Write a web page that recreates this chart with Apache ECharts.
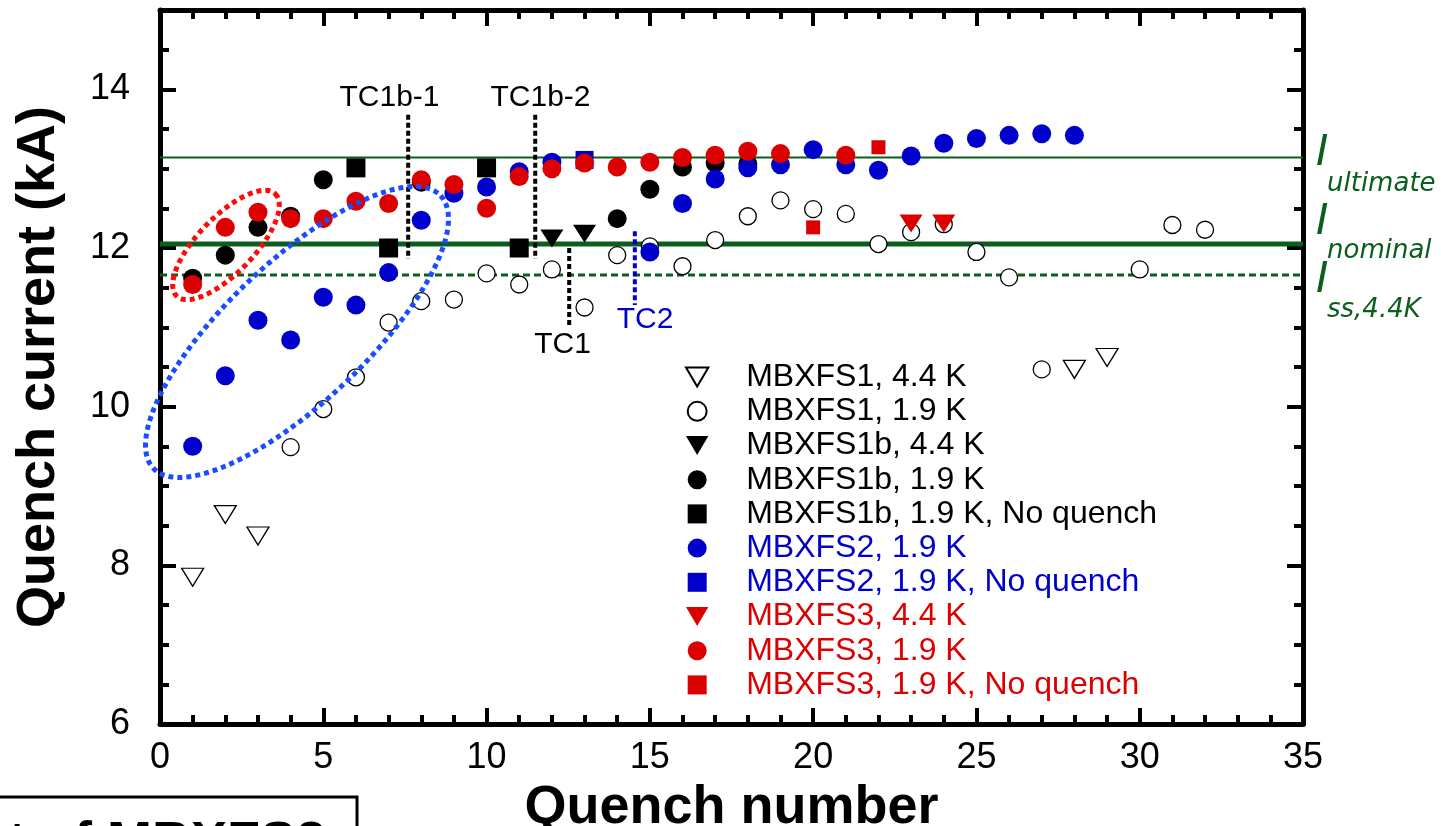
<!DOCTYPE html>
<html><head><meta charset="utf-8">
<script src="https://cdn.jsdelivr.net/npm/echarts@6/dist/echarts.min.js"></script>
<style>html,body{margin:0;padding:0;background:#fff;}#c{width:1441px;height:826px;}</style>
</head><body><div id="c"></div>
<script>
// ---- data (quench number, quench current kA) ----
const mbxfs1_44 = [[1,7.85],[2,8.64],[3,8.37],[28,10.47],[29,10.62]];
const mbxfs1_19 = [[4,9.49],[5,9.97],[6,10.37],[7,11.06],[8,11.33],[9,11.35],[10,11.68],[11,11.54],[12,11.73],[13,11.25],[14,11.91],[15,12.02],[16,11.77],[17,12.10],[18,12.40],[19,12.60],[20,12.49],[21,12.43],[22,12.05],[23,12.20],[24,12.30],[25,11.95],[26,11.63],[27,10.47],[30,11.73],[31,12.29],[32,12.23]];
const mbxfs1b_44 = [[12,12.12],[13,12.18]];
const mbxfs1b_19 = [[1,11.62],[2,11.91],[3,12.26],[4,12.40],[5,12.86],[8,12.83],[14,12.37],[15,12.74],[16,13.02],[17,13.07],[18,13.06]];
const mbxfs1b_nq = [[6,13.01],[7,12.00],[10,13.01],[11,12.00]];
const mbxfs2_19 = [[1,9.50],[2,10.39],[3,11.09],[4,10.84],[5,11.38],[6,11.28],[7,11.69],[8,12.35],[9,12.69],[10,12.77],[11,12.96],[12,13.08],[15,11.95],[16,12.56],[17,12.87],[18,13.01],[19,13.05],[20,13.24],[21,13.05],[22,12.98],[23,13.16],[24,13.32],[25,13.38],[26,13.42],[27,13.44],[28,13.42]];
const mbxfs2_nq = [[13,13.11]];
const mbxfs3_44 = [[23,12.31],[24,12.31]];
const mbxfs3_19 = [[1,11.54],[2,12.26],[3,12.45],[4,12.37],[5,12.37],[6,12.59],[7,12.56],[8,12.86],[9,12.80],[10,12.50],[11,12.90],[12,13.00],[13,13.07],[14,13.02],[15,13.08],[16,13.14],[17,13.17],[18,13.22],[19,13.19],[21,13.17]];
const mbxfs3_nq = [[20,12.26],[22,13.27]];

const seriesNames = ['MBXFS1, 4.4 K','MBXFS1, 1.9 K','MBXFS1b, 4.4 K','MBXFS1b, 1.9 K','MBXFS1b, 1.9 K, No quench','MBXFS2, 1.9 K','MBXFS2, 1.9 K, No quench','MBXFS3, 4.4 K','MBXFS3, 1.9 K','MBXFS3, 1.9 K, No quench'];

// reference currents (kA)
const I_ultimate = 13.14, I_nominal = 12.05, I_ss44 = 11.66;
// test-campaign markers: [x, yTop, yBottom]
const tc1b1 = [7.6, 13.68, 11.86];
const tc1b2 = [11.49, 13.68, 11.86];
const tc1 = [12.53, 12.0, 11.01];
const tc2 = [14.54, 12.21, 11.28];
const xTickLabels = [0,5,10,15,20,25,30,35];
const yTickLabels = [6,8,10,12,14];

const BLACK='#000', BLUE='#0000cc', RED='#dd0000', GREEN='#0b5e1e';
const FONT='Liberation Sans';
const DTRI='path://M0,0L20,0L10,17Z';
const SQR='path://M0,0L10,0L10,10L0,10Z';

const chart = echarts.init(document.getElementById('c'), null, {renderer:'canvas'});

function mk(name, data, symbol, size, color, open){
  return {name, type:'scatter', data, symbol, symbolSize:size, z:5,
    itemStyle: open ? {color:'#fff', borderColor:'#000', borderWidth:1.3, opacity:1} : {color, opacity:1},
    emphasis:{disabled:true}};
}
function vline(a, color){
  return {type:'line', data:[[a[0],a[1]],[a[0],a[2]]], symbol:'none', silent:true, z:3,
    lineStyle:{color, width:4, type:[5,3]}};
}
function hline(y, width, type){
  return {type:'line', data:[[0,y],[35,y]], symbol:'none', silent:true, z:2,
    lineStyle:{color:GREEN, width, type}};
}

const axisCommon = {type:'value', splitLine:{show:false}};
const tickStyle = {color:'#000', width:4};

const option = {
  animation:false,
  backgroundColor:'#fff',
  grid:{left:160, right:138, top:10, bottom:102, containLabel:false, outerBoundsMode:'none'},
  xAxis:[
    Object.assign({}, axisCommon, {position:'bottom', min:0, max:35, interval:5,
      name:'Quench number', nameLocation:'middle', nameGap:47,
      nameTextStyle:{fontSize:54, fontWeight:'bold', fontFamily:FONT, color:'#000'},
      axisLine:{onZero:false, lineStyle:{color:'#000', width:5}},
      axisTick:{inside:true, length:16, lineStyle:tickStyle},
      minorTick:{show:true, splitNumber:5, length:9, lineStyle:tickStyle},
      axisLabel:{fontSize:36, fontFamily:FONT, color:'#000', margin:16,
        formatter:v=> xTickLabels.includes(v) ? String(v) : ''}}),
    Object.assign({}, axisCommon, {position:'top', min:0, max:35, interval:5,
      axisLine:{onZero:false, lineStyle:{color:'#000', width:5}},
      axisTick:{inside:true, length:16, lineStyle:tickStyle},
      minorTick:{show:true, splitNumber:5, length:9, lineStyle:tickStyle},
      axisLabel:{show:false}})
  ],
  yAxis:[
    Object.assign({}, axisCommon, {position:'left', min:6, max:15, interval:2,
      name:'Quench current (kA)', nameLocation:'middle', nameGap:94,
      nameTextStyle:{fontSize:54, fontWeight:'bold', fontFamily:FONT, color:'#000'},
      axisLine:{onZero:false, lineStyle:{color:'#000', width:5}},
      axisTick:{inside:true, length:16, lineStyle:tickStyle},
      axisLabel:{fontSize:36, fontFamily:FONT, color:'#000', margin:30, showMaxLabel:false,
        formatter:v=> yTickLabels.includes(v) ? String(v) : ''}}),
    Object.assign({}, axisCommon, {position:'left', min:6, max:15, interval:0.5,
      axisLine:{show:false, onZero:false},
      axisTick:{inside:true, length:9, lineStyle:tickStyle}, axisLabel:{show:false}}),
    Object.assign({}, axisCommon, {position:'right', min:6, max:15, interval:2,
      axisLine:{onZero:false, lineStyle:{color:'#000', width:5}},
      axisTick:{inside:true, length:16, lineStyle:tickStyle}, axisLabel:{show:false}}),
    Object.assign({}, axisCommon, {position:'right', min:6, max:15, interval:0.5,
      axisLine:{show:false, onZero:false},
      axisTick:{inside:true, length:9, lineStyle:tickStyle}, axisLabel:{show:false}})
  ],
  legend:{
    orient:'vertical', left:685, top:360, padding:0, itemGap:0, itemWidth:88, itemHeight:19,
    selectedMode:false,
    textStyle:{fontSize:32, fontFamily:FONT, lineHeight:34.2},
    data: seriesNames.map((n,i)=>({name:n, textStyle:{color: i<5 ? BLACK : (i<7 ? BLUE : RED)}}))
  },
  series:[
    hline(I_ultimate, 2, 'solid'),
    hline(I_nominal, 5, 'solid'),
    hline(I_ss44, 3, [7,4]),
    vline(tc1b1, BLACK), vline(tc1b2, BLACK), vline(tc1, BLACK), vline(tc2, BLUE),
    mk(seriesNames[0], mbxfs1_44, DTRI, [22,18], BLACK, true),
    mk(seriesNames[1], mbxfs1_19, 'circle', 17, BLACK, true),
    mk(seriesNames[2], mbxfs1b_44, DTRI, [23,18], BLACK, false),
    mk(seriesNames[3], mbxfs1b_19, 'circle', 19, BLACK, false),
    mk(seriesNames[4], mbxfs1b_nq, SQR, 19, BLACK, false),
    mk(seriesNames[5], mbxfs2_19, 'circle', 19, BLUE, false),
    mk(seriesNames[6], mbxfs2_nq, SQR, 18, BLUE, false),
    mk(seriesNames[7], mbxfs3_44, DTRI, [23,18], RED, false),
    mk(seriesNames[8], mbxfs3_19, 'circle', 19, RED, false),
    mk(seriesNames[9], mbxfs3_nq, SQR, 14, RED, false)
  ]
};
chart.setOption(option);

// ---- annotations (pixel space) ----
function ellipse(cx, cy, a, b, deg){
  const th = deg*Math.PI/180, pts=[];
  const ux=Math.cos(th), uy=-Math.sin(th), vx=Math.sin(th), vy=Math.cos(th);
  for(let i=0;i<180;i++){
    const t=i/180*2*Math.PI;
    pts.push([cx + a*Math.cos(t)*ux + b*Math.sin(t)*vx, cy + a*Math.cos(t)*uy + b*Math.sin(t)*vy]);
  }
  return pts;
}
function txt(x, y, text, size, color){
  return {type:'text', x, y, z:50, silent:true,
    style:{text, fontSize:size, fontFamily:FONT, fill:color, textAlign:'center', textVerticalAlign:'middle', verticalAlign:'middle'}};
}
function itxt(x, y, text, size){
  return {type:'text', x, y, z:50, silent:true,
    style:{text, fontSize:size, fontFamily:'DejaVu Sans', fontStyle:'italic', fill:GREEN, textAlign:'left', verticalAlign:'middle', textVerticalAlign:'middle'}};
}
const graphics = [
  {type:'polygon', shape:{points:ellipse(226,245,71,28,46)}, z:40, silent:true,
    style:{fill:'none', stroke:'#ff0a0a', lineWidth:5, lineDash:[5,4]}},
  {type:'polygon', shape:{points:ellipse(297,332,198,70,43.5)}, z:40, silent:true,
    style:{fill:'none', stroke:'#1a4dff', lineWidth:5, lineDash:[5,4]}},
  txt(389.5, 97.5, 'TC1b-1', 30, BLACK),
  txt(540.5, 97.5, 'TC1b-2', 30, BLACK),
  txt(562.5, 344.5, 'TC1', 30, BLACK),
  txt(645, 319.5, 'TC2', 30, BLUE),
  itxt(1316, 154, 'I', 42),
  itxt(1327, 184, 'ultimate', 26),
  itxt(1316, 223, 'I', 42),
  itxt(1327, 251, 'nominal', 26),
  itxt(1316, 281, 'I', 42),
  itxt(1327, 310, 'ss,4.4K', 26),
  {type:'rect', shape:{x:-10, y:797, width:367, height:60}, z:40, silent:true,
    style:{fill:'#fff', stroke:'#000', lineWidth:3}},
  {type:'text', x:326, y:844, z:41, silent:true,
    style:{text:'Training test of MBXFS2', fontSize:54, fontWeight:'bold', fontFamily:FONT, fill:'#000', textAlign:'right', verticalAlign:'middle', textVerticalAlign:'middle'}}
];
chart.setOption({graphic: graphics});
</script></body></html>
